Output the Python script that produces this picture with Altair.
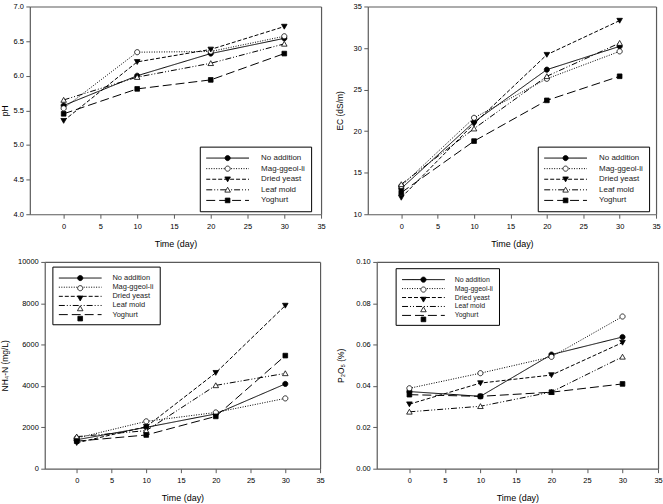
import altair as alt
import pandas as pd

days = [0, 10, 20, 30]
series = ["No addition", "Mag-ggeol-li", "Dried yeast", "Leaf mold", "Yoghurt"]

ph_values = {
    "No addition": [5.57, 6.00, 6.32, 6.54],
    "Mag-ggeol-li": [5.53, 6.34, 6.35, 6.57],
    "Dried yeast": [5.35, 6.20, 6.38, 6.71],
    "Leaf mold": [5.65, 5.98, 6.18, 6.46],
    "Yoghurt": [5.45, 5.81, 5.94, 6.32],
}
ec_values = {
    "No addition": [13.1, 21.1, 27.4, 30.2],
    "Mag-ggeol-li": [13.4, 21.6, 26.3, 29.6],
    "Dried yeast": [12.0, 20.9, 29.2, 33.3],
    "Leaf mold": [13.6, 20.3, 26.6, 30.6],
    "Yoghurt": [12.6, 18.8, 23.7, 26.6],
}
nh4_values = {
    "No addition": [1400, 2000, 2650, 4100],
    "Mag-ggeol-li": [1480, 2290, 2720, 3400],
    "Dried yeast": [1250, 2030, 4640, 7890],
    "Leaf mold": [1550, 1840, 4030, 4610],
    "Yoghurt": [1330, 1630, 2530, 5470],
}
p2o5_values = {
    "No addition": [0.0373, 0.0350, 0.0552, 0.0637],
    "Mag-ggeol-li": [0.0389, 0.0462, 0.0541, 0.0736],
    "Dried yeast": [0.0312, 0.0414, 0.0453, 0.0610],
    "Leaf mold": [0.0275, 0.0302, 0.0371, 0.0541],
    "Yoghurt": [0.0358, 0.0350, 0.0370, 0.0410],
}

x_ticks = [0, 5, 10, 15, 20, 25, 30, 35]
ph_ticks = [4.0, 4.5, 5.0, 5.5, 6.0, 6.5, 7.0]
ec_ticks = [10, 15, 20, 25, 30, 35]
nh4_ticks = [0, 2000, 4000, 6000, 8000, 10000]
p2o5_ticks = [0.0, 0.02, 0.04, 0.06, 0.08, 0.10]

FONT = "Liberation Sans"
FRAME = "#5a5a5a"
SYM_SIZE = 100
line_path = "M-4.3,0H4.3"
circle_path = "M0.52,0A0.52,0.52 0 1,1 -0.52,0A0.52,0.52 0 1,1 0.52,0Z"
tri_down_path = "M-0.56,-0.46L0.56,-0.46L0,0.52Z"
tri_up_path = "M-0.56,0.46L0.56,0.46L0,-0.52Z"
square_path = "M-0.47,-0.47H0.47V0.47H-0.47Z"
marker_paths = [circle_path, circle_path, tri_down_path, tri_up_path, square_path]
marker_fills = ["black", "white", "black", "white", "black"]
marker_strokes = ["black", "black", "black", "black", "black"]
dashes = [[1, 0], [1, 1.5], [4, 2], [6, 2, 1, 2, 1, 2], [9, 4]]


def panel(values, ytitle, ydomain, yticks, yfmt, width, height, x_off, y_ext, y_tpad,
          leg_x, leg_y, leg_font, leg_rowpad, leg_gap):
    recs = []
    for s in series:
        for d, v in zip(days, values[s]):
            recs.append({"day": d, "value": v, "series": s, "series_line": s})
    df = pd.DataFrame(recs)
    xscale = alt.Scale(domain=[-4.6, 35], range=[x_off, width], nice=False, zero=False)
    yscale = alt.Scale(domain=ydomain, nice=False, zero=False)
    xenc = alt.X("day:Q", scale=xscale,
                 axis=alt.Axis(values=x_ticks, title="Time (day)", labelFlush=False,
                               minExtent=14, maxExtent=14, titlePadding=11))
    yenc = alt.Y("value:Q", scale=yscale,
                 axis=alt.Axis(values=yticks, format=yfmt, title=ytitle, offset=-x_off,
                               minExtent=y_ext, maxExtent=y_ext, titlePadding=y_tpad))
    common = dict(orient="none", legendX=leg_x, legendY=leg_y, direction="vertical",
                  title=None, padding=6, labelFont=FONT, labelFontSize=leg_font,
                  labelFontWeight="normal",
                  rowPadding=leg_rowpad, symbolSize=SYM_SIZE, symbolOffset=16.5,
                  labelOffset=16.5 + leg_gap)
    leg_line = alt.Legend(symbolType=line_path, symbolStrokeColor="black",
                          symbolStrokeWidth=1, strokeColor="black", labelColor="#222222",
                          **common)
    leg_mark = alt.Legend(symbolStrokeWidth=0.8, labelExpr="''", **common)
    lines = alt.Chart(df).mark_line(color="black", strokeWidth=1).encode(
        x=xenc, y=yenc,
        strokeDash=alt.StrokeDash("series_line:N", sort=series,
                                  scale=alt.Scale(range=dashes), legend=leg_line),
    )
    points = alt.Chart(df).mark_point(size=SYM_SIZE, opacity=1, filled=False,
                                      strokeWidth=0.8).encode(
        x=alt.X("day:Q", scale=xscale, axis=None),
        y=alt.Y("value:Q", scale=yscale, axis=None),
        shape=alt.Shape("series:N", scale=alt.Scale(domain=series, range=marker_paths),
                        legend=leg_mark),
        fill=alt.Fill("series:N", scale=alt.Scale(domain=series, range=marker_fills),
                      legend=leg_mark),
        stroke=alt.Stroke("series:N", scale=alt.Scale(domain=series, range=marker_strokes),
                          legend=leg_mark),
    )
    frame = alt.Chart(df).mark_point(opacity=0).encode(
        x=alt.X("day:Q", scale=xscale,
                axis=alt.Axis(orient="top", labels=False, ticks=False, title=None)),
        y=alt.Y("value:Q", scale=yscale,
                axis=alt.Axis(orient="right", labels=False, ticks=False, title=None)),
    )
    return alt.layer(lines, points, frame).resolve_axis(
        x="independent", y="independent"
    ).properties(width=width, height=height)


tl = panel(ph_values, "pH", [4, 7], ph_ticks, ".1f", 293, 209, 0, 17, 3.7,
           171, 141, 8, 0.65, 11.7)
tr = panel(ec_values, "EC (dS/m)", [10, 35], ec_ticks, "d", 290, 209, 0, 15, 8,
           171, 141, 8, 0.65, 11.7)
bl = panel(nh4_values, "NH\u2084-N (mg/L)", [0, 10000], nh4_ticks, "d", 292, 208, 15, 28, 7.5,
           22.7, 4.7, 7.5, 0.2, 10.4)
br = panel(p2o5_values, "P\u2082O\u2085 (%)", [0, 0.10], p2o5_ticks, ".2f", 283, 208, 0, 21, 10.3,
           19, 6.3, 7, 0, 9.4)

chart = alt.concat(tl, tr, bl, br, columns=2, spacing=10, align="none").resolve_scale(
    shape="independent", fill="independent", stroke="independent",
    strokeDash="independent"
).resolve_legend(
    shape="independent", fill="independent", stroke="independent",
    strokeDash="independent"
).properties(
    padding={"left": 0, "top": 1, "right": 0, "bottom": 0}
).configure_view(
    strokeWidth=0
).configure_axis(
    labelFont=FONT, labelFontSize=7.5, labelColor="black",
    titleFont=FONT, titleFontWeight="normal", titleColor="black",
    tickColor=FRAME, tickSize=4, tickWidth=1,
    domainColor=FRAME, domainWidth=1.2, grid=False,
).configure_axisX(
    titleFontSize=9, labelPadding=4,
).configure_axisY(
    titleFontSize=8.5, labelPadding=2.5,
)

chart.save("out.html", embed_options={"renderer": "svg", "actions": False})
